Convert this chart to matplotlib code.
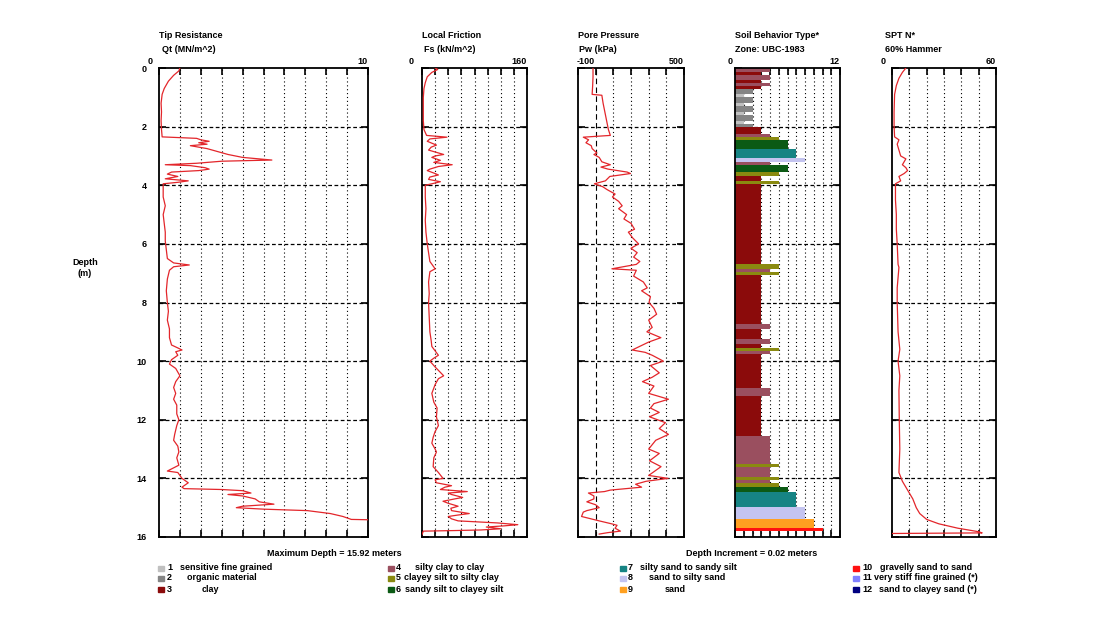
import matplotlib
matplotlib.use("Agg")
import matplotlib.pyplot as plt
import matplotlib.transforms as mtrans
from matplotlib.patches import Rectangle

plt.rcParams['font.family'] = ['Liberation Sans', 'DejaVu Sans']
plt.rcParams['font.weight'] = 'bold'

W, H = 1111, 617

tip_depth = [0.0, 0.1, 0.25, 0.45, 0.7, 0.9, 1.2, 1.5, 1.8, 2.1, 2.35, 2.4, 2.45, 2.5, 2.55,
             2.6, 2.65, 2.7, 2.75, 2.85, 2.95, 3.05, 3.14, 3.18, 3.25, 3.3, 3.33, 3.4, 3.45,
             3.5, 3.55, 3.62, 3.7, 3.78, 3.85, 3.9, 3.95, 4.1, 4.4, 4.7, 5.0, 5.3, 5.6, 5.9,
             6.2, 6.5, 6.65, 6.72, 6.78, 6.9, 7.2, 7.6, 8.0, 8.3, 8.6, 8.9, 9.2, 9.45, 9.55,
             9.62, 9.68, 9.8, 9.95, 10.1, 10.25, 10.5, 10.7, 10.9, 11.1, 11.3, 11.5, 11.8,
             12.0, 12.2, 12.5, 12.7, 12.9, 13.1, 13.3, 13.55, 13.75, 13.8, 14.0, 14.15, 14.3,
             14.35, 14.38, 14.42, 14.5, 14.55, 14.6, 14.7, 14.8, 14.88, 14.95, 15.0, 15.05,
             15.1, 15.2, 15.3, 15.4, 15.42, 15.92]
tip_qt = [1.0, 0.95, 0.7, 0.45, 0.25, 0.15, 0.1, 0.12, 0.1, 0.12, 0.15, 1.8, 2.0, 2.4, 1.9,
          2.3, 1.5, 1.9, 2.3, 2.8, 3.3, 4.0, 5.4, 3.0, 1.8, 0.3, 1.5, 2.2, 2.4,
          1.9, 0.6, 0.4, 0.9, 0.3, 1.4, 0.9, 0.2, 0.2, 0.2, 0.3, 0.2, 0.25, 0.3, 0.3,
          0.35, 0.4, 0.7, 1.45, 0.7, 0.5, 0.4, 0.35, 0.4, 0.45, 0.4, 0.5, 0.5, 0.6, 0.9,
          1.1, 0.8, 0.9, 0.6, 0.5, 0.8, 1.0, 0.8, 0.7, 0.8, 0.7, 0.85, 0.85,
          0.95, 0.85, 0.75, 0.7, 0.9, 0.95, 0.85, 0.95, 0.4, 0.9, 1.1, 1.4, 1.1,
          1.2, 3.0, 4.0, 4.4, 3.3, 4.0, 4.6, 4.8, 5.5, 4.0, 3.7, 5.0,
          7.1, 8.2, 8.8, 9.2, 10.6, 12.0]

fs_depth = [0.0, 0.05, 0.15, 0.3, 0.5, 0.7, 1.0, 1.4, 1.8, 2.1, 2.3, 2.36, 2.42, 2.5, 2.63,
            2.7, 2.8, 2.95, 3.0, 3.05, 3.15, 3.22, 3.3, 3.36, 3.45, 3.5, 3.6, 3.65, 3.72,
            3.8, 3.88, 3.95, 4.0, 4.4, 4.8, 5.2, 5.6, 6.0, 6.3, 6.6, 6.85, 6.95, 7.3, 7.7,
            8.0, 8.5, 9.0, 9.3, 9.5, 9.8, 9.9, 10.0, 10.2, 10.5, 10.6, 10.8, 11.1, 11.4,
            11.6, 11.9, 12.2, 12.4, 12.6, 12.8, 13.0, 13.1, 13.3, 13.6, 13.8, 14.0, 14.05,
            14.15, 14.25, 14.3, 14.38, 14.45, 14.5, 14.55, 14.65, 14.7, 14.78, 14.85, 14.95,
            15.02, 15.1, 15.2, 15.25, 15.3, 15.38, 15.45, 15.52, 15.58, 15.62, 15.66, 15.72,
            15.76, 15.78, 15.8, 15.92]
fs_val = [20, 24, 15, 8, 5, 3, 2, 2, 2, 3, 7, 38, 12, 8, 22,
          14, 10, 33, 20, 15, 28, 18, 46, 25, 12, 8, 20, 25, 12,
          10, 28, 15, 5, 5, 6, 5, 6, 8, 10, 12, 20, 12, 10, 11,
          10, 11, 12, 14, 15, 25, 18, 12, 20, 33, 25, 20, 15, 18,
          23, 22, 25, 20, 17, 15, 20, 22, 18, 17, 25, 32, 20,
          22, 45, 35, 28, 69, 40, 45, 62, 50, 32, 40, 55,
          44, 45, 72, 55, 40, 45, 55, 115, 146, 125, 98, 120,
          90, 50, 2, 0]

pw_depth = [0.0, 0.3, 0.6, 0.9, 0.93, 1.2, 1.5, 1.8, 2.1, 2.3, 2.36, 2.45, 2.55, 2.65, 2.75,
            2.9, 2.95, 3.05, 3.2, 3.3, 3.38, 3.45, 3.55, 3.6, 3.7, 3.85, 3.95, 4.05, 4.15,
            4.3, 4.4, 4.55, 4.7, 4.8, 5.0, 5.15, 5.3, 5.5, 5.6, 5.8, 6.0, 6.15, 6.3, 6.45,
            6.6, 6.7, 6.85, 6.9, 7.1, 7.3, 7.5, 7.6, 7.8, 8.0, 8.2, 8.4, 8.6, 8.85, 9.0,
            9.2, 9.35, 9.62, 9.7, 9.8, 10.0, 10.15, 10.4, 10.55, 10.7, 10.85, 11.1, 11.3,
            11.45, 11.6, 11.75, 11.9, 12.1, 12.3, 12.5, 12.7, 13.0, 13.15, 13.4, 13.6, 13.9,
            14.0, 14.1, 14.2, 14.3, 14.4, 14.45, 14.5, 14.6, 14.7, 14.8, 14.9, 15.0, 15.1,
            15.15, 15.3, 15.45, 15.55, 15.6, 15.7, 15.8, 15.85, 15.9]
pw_val = [-15, -15, -17, -20, 35, 42, 52, 62, 72, 83, -70, -40, -55, -25, -20,
          7, -10, 20, 35, 83, 30, 70, 178, 197, 80, 55, -7, 40, 65,
          110, 95, 130, 150, 130, 175, 160, 200, 220, 185, 210, 243, 200, 235, 215,
          250, 230, 92, 230, 215, 270, 292, 260, 310, 302, 330, 345, 300, 320, 290,
          369, 300, 207, 280, 320, 383, 310, 360, 320, 265, 330, 300, 412,
          330, 310, 360, 305, 395, 360, 412, 340, 300, 360, 305, 370, 300,
          410, 285, 226, 260, 83, 50, -41, -10, -10, -50, 0, 20, -50,
          -70, -80, 20, 90, 121, 110, 140, 70, 20]

spt_depth = [0.0, 0.15, 0.35, 0.6, 0.9, 1.5, 2.0, 2.35, 2.45, 2.6, 2.8, 3.0, 3.1, 3.2, 3.3,
             3.4, 3.5, 3.6, 3.7, 3.85, 3.95, 4.5, 5.0, 5.5, 6.0, 6.7, 6.8, 7.5, 8.0, 9.0,
             9.6, 10.0, 10.5, 11.0, 12.0, 13.0, 13.8, 14.1, 14.3, 14.5, 14.7, 15.0, 15.2,
             15.4, 15.55, 15.7, 15.82, 15.86, 15.88]
spt_val = [8, 6, 4, 2.5, 1.5, 1.2, 1.2, 1.5, 4, 3, 4, 5, 8, 7, 6,
           8, 9, 7, 4, 5, 2, 2, 2.5, 2.5, 3, 3.5, 4, 3, 3, 3.5,
           4.5, 3.5, 4.5, 4, 4.2, 4.5, 4, 6, 8, 10, 12, 14, 16,
           20, 27, 38, 50, 52, 0]

soil_top = [0.00, 0.12, 0.25, 0.40, 0.50, 0.60, 0.72, 0.90, 1.00, 1.20, 1.30, 1.50, 1.60,
            1.80, 1.90, 2.00, 2.25, 2.35, 2.45, 2.75, 3.08, 3.20, 3.30, 3.55, 3.70, 3.85,
            3.95, 6.70, 6.85, 6.95, 7.05, 8.75, 8.90, 9.25, 9.40, 9.55, 9.65, 9.75, 10.90,
            11.20, 12.55, 13.50, 13.60, 13.95, 14.05, 14.15, 14.30, 14.45, 14.97, 15.40, 15.70]
soil_bot = [0.12, 0.25, 0.40, 0.50, 0.60, 0.72, 0.90, 1.00, 1.20, 1.30, 1.50, 1.60, 1.80,
            1.90, 2.00, 2.25, 2.35, 2.45, 2.75, 3.08, 3.20, 3.30, 3.55, 3.70, 3.85, 3.95,
            6.70, 6.85, 6.95, 7.05, 8.75, 8.90, 9.25, 9.40, 9.55, 9.65, 9.75, 10.90, 11.20,
            12.55, 13.50, 13.60, 13.95, 14.05, 14.15, 14.30, 14.45, 14.97, 15.40, 15.70, 15.78]
soil_zone = [4, 3, 4, 3, 4, 3, 2, 1, 2, 1, 2, 1, 2, 1, 2, 3, 4, 5, 6, 7, 8, 4, 6, 5, 3, 5,
             3, 5, 4, 5, 3, 4, 3, 4, 3, 5, 4, 3, 4, 3, 4, 5, 4, 5, 4, 5, 6, 7, 8, 9, 10]

zone_names = ['sensitive fine grained', 'organic material', 'clay', 'silty clay to clay',
              'clayey silt to silty clay', 'sandy silt to clayey silt', 'silty sand to sandy silt',
              'sand to silty sand', 'sand', 'gravelly sand to sand',
              'very stiff fine grained (*)', 'sand to clayey sand (*)']
zone_colors = ['#c0c0c0', '#858585', '#8b0b0b', '#9a4f5f', '#8a8a10', '#0b5a14',
               '#168484', '#c4c4f0', '#ffa020', '#ff1010', '#8080ff', '#000080']

depth_ticks = [0, 2, 4, 6, 8, 10, 12, 14, 16]

RED = '#e3262b'


def px_axes(x0, x1, top=68, bottom=537):
    return fig.add_axes([x0 / W, 1 - bottom / H, (x1 - x0) / W, (bottom - top) / H])


def style(ax, lo, hi, step, left_lab, right_lab, left_off):
    ax.set_xlim(lo, hi)
    ax.set_ylim(16, 0)
    grid = [lo + step * i for i in range(1, int(round((hi - lo) / step)))]
    ax.set_xticks([lo] + grid + [hi])
    ax.set_yticks(depth_ticks)
    ax.tick_params(direction='in', length=5, width=1.2, top=True, bottom=True,
                   left=True, right=True, labelbottom=False, labelleft=False)
    for y in depth_ticks[1:-1]:
        ax.axhline(y, color='k', lw=0.9, ls=(0, (3, 2)), zorder=1)
    for x in grid:
        ax.axvline(x, color='k', lw=0.8, ls=(0, (1, 2.5)), zorder=1)
    for s in ax.spines.values():
        s.set_linewidth(1.3)
    tl = mtrans.offset_copy(ax.transAxes, fig=fig, x=left_off, y=6, units='dots')
    ax.text(0, 1, left_lab, transform=tl, ha='center', va='center', fontsize=6.5)
    tr = mtrans.offset_copy(ax.transAxes, fig=fig, x=0, y=6, units='dots')
    ax.text(1, 1, right_lab, transform=tr, ha='right', va='center', fontsize=6.5)


fig = plt.figure(figsize=(W / 100, H / 100), dpi=100)

# Tip resistance
ax1 = px_axes(159, 368)
style(ax1, 0, 10, 1, '0', '10', -9)
ax1.plot(tip_qt, tip_depth, color=RED, lw=0.9, zorder=3)
ax1.tick_params(labelleft=True, pad=9, labelsize=6.5)

# Local friction
ax2 = px_axes(422, 527)
style(ax2, 0, 160, 20, '0', '160', -11)
ax2.plot(fs_val, fs_depth, color=RED, lw=0.9, zorder=3)

# Pore pressure
ax3 = px_axes(578, 684)
style(ax3, -100, 500, 100, '-100', '500', 8)
ax3.lines[-5].set_linestyle((0, (5, 3)))
ax3.plot(pw_val, pw_depth, color=RED, lw=0.9, zorder=3)

# Soil behaviour type
ax4 = px_axes(735, 840)
style(ax4, 0, 12, 1, '0', '12', -5)
for t, b, z in zip(soil_top, soil_bot, soil_zone):
    ax4.barh((t + b) / 2, z, height=b - t, left=0, color=zone_colors[z - 1],
             edgecolor='none', zorder=2)

# SPT N
ax5 = px_axes(892, 996)
style(ax5, 0, 60, 10, '0', '60', -9)
ax5.plot(spt_val, spt_depth, color=RED, lw=0.9, zorder=3)

# headers
headers = [(159, 162, 'Tip Resistance', 'Qt (MN/m^2)'),
           (422, 424, 'Local Friction', 'Fs (kN/m^2)'),
           (578, 579, 'Pore Pressure', 'Pw (kPa)'),
           (735, 735, 'Soil Behavior Type*', 'Zone: UBC-1983'),
           (885, 885, 'SPT N*', '60% Hammer')]
for x1, x2, t1, t2 in headers:
    fig.text(x1 / W, 1 - 35 / H, t1, ha='left', va='center', fontsize=6.5)
    fig.text(x2 / W, 1 - 49 / H, t2, ha='left', va='center', fontsize=6.5)

fig.text(85 / W, 1 - 263 / H, 'Depth', ha='center', va='center', fontsize=6.5)
fig.text(85 / W, 1 - 274 / H, '(m)', ha='center', va='center', fontsize=6.5)

fig.text(334 / W, 1 - 553 / H, 'Maximum Depth = 15.92 meters', ha='center', va='center', fontsize=6.5)
fig.text(752 / W, 1 - 553 / H, 'Depth Increment = 0.02 meters', ha='center', va='center', fontsize=6.5)

# legend
sq_x = [158, 388, 620, 853]
num_x = [167, 396, 628, 862]
txt_x = [[180, 187, 202], [415, 404, 405], [640, 649, 665], [880, 874, 879]]
row_y = [568, 578, 589]
for i, (name, col) in enumerate(zip(zone_names, zone_colors)):
    c, r = divmod(i, 3)
    y = 1 - row_y[r] / H
    fig.patches.append(Rectangle((sq_x[c] / W, y - 2.5 / H), 6 / W, 5 / H, color=col,
                                 transform=fig.transFigure, figure=fig))
    fig.text(num_x[c] / W, y, str(i + 1), ha='left', va='center', fontsize=6.5)
    fig.text(txt_x[c][r] / W, y, name, ha='left', va='center', fontsize=6.5)

fig.savefig('out.png', dpi=100)
